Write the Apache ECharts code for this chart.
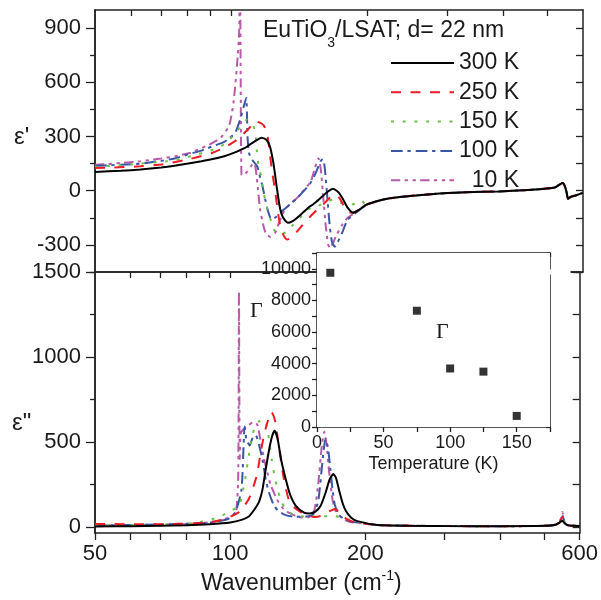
<!DOCTYPE html>
<html><head><meta charset="utf-8">
<script src="https://cdn.jsdelivr.net/npm/echarts@6/dist/echarts.min.js"></script>
<style>html,body{margin:0;padding:0;background:#fff}#c{width:601px;height:600px}</style>
</head><body><div id="c"></div>
<script>
// ---------- data ----------
const seriesNames = ['300 K', '250 K', '150 K', '100 K', '  10 K'];
const seriesColors = ['#000000', '#ec1c24', '#6cc04a', '#3a56a6', '#b95aa8'];

// epsilon' : [wavenumber (cm^-1), value]
const tailE1 = [[199,-78],[216,-50],[236,-35],[280,-18],[330,-9],[390,-4],[460,5],[520,18],[541,43],[547,25],[552,-10],[556,-45],[563,-35],[580,-25],[600,-12]];
const e1_300K = [[50,104],[57,110],[63,117],[70,128],[75,138],[81,152],[86,163],[91,175],[96.6,191],[102,212],[107,235],[111,262],[114.5,283],[116.7,293],[119.5,283],[121.8,246],[124,154],[126,30],[128,-85],[130,-144],[133.5,-178],[136.5,-170],[140,-150],[149,-89],[152,-75],[157,-45],[162.5,-11],[168,11],[173,-11],[177,-50],[181,-94],[186,-122],[192,-105]];
const e1_250K = [[50,125],[55,128],[63,135],[70,145],[81,175],[91,210],[96,235],[102,274],[106,310],[110,350],[113,385],[116,375],[118,362],[120,320],[121.5,230],[123,117],[125,6],[127,-124],[128.5,-198],[130.5,-245],[133,-270],[136,-260],[140,-225],[145,-180],[150,-140],[155,-105],[160,-75],[165,-41],[170,-22],[173.5,-40],[177,-78],[181,-115],[186,-122],[192,-105]];
const e1_150K = [[50,132],[60,145],[72,163],[80,185],[91.5,228],[97,260],[103,329],[106,370],[108.5,394],[111,375],[113,330],[114,218],[115,135],[116.5,80],[118,-13],[121,-124],[123,-180],[125,-225],[128,-244],[132,-230],[137,-190],[142,-150],[147,-105],[152,-96],[160,-70],[168,-50],[177,-72],[186,-75],[194,-55]];
const e1_100K = [[50,138],[55,142],[63,150],[70,165],[75,178],[81,204],[86,222],[91,246],[96,267],[99,290],[102,318],[104.7,394],[106.5,460],[108,515],[108.7,300],[109.5,210],[111,175],[113,150],[114.3,133],[116,70],[117.4,22],[119.9,-89],[121.8,-144],[123,-158],[125,-150],[128,-125],[130,-110],[135,-75],[140,-40],[145,0],[150,45],[154,100],[157.7,163],[159.5,175],[161,130],[163,-20],[165,-180],[167,-280],[169.5,-310],[172,-285],[176,-233],[181,-161],[190,-117],[195,-95]];
const e1_10K = [[50,144],[55,150],[63,163],[70,178],[75,190],[81,209],[86,235],[91,265],[95,295],[99,360],[101.2,487],[103,690],[104.2,880],[104.6,1300],[105.0,600],[105.4,90],[106.5,85],[108.5,105],[111,140],[112.5,150],[113.5,110],[114.5,20],[116,-110],[118,-198],[119.5,-240],[122,-255],[125,-235],[128,-170],[131,-110],[135,-75],[140,-40],[145,5],[150,50],[153,120],[156,180],[158,110],[160,-50],[162,-200],[164,-300],[165.5,-317],[168,-290],[171,-245],[176,-190],[181,-150],[190,-115],[195,-95]];

// epsilon'' : [wavenumber (cm^-1), value]
const tailE2 = [[213,12],[250,8],[300,6],[400,5],[500,7],[530,13],[542,28]];
const tailE2b = [[556,22],[565,10],[600,6]];
const peak550 = [37, 60, 55, 70, 88];
const e2_300K = [[50,3],[60,5],[70,8],[80,11],[90,17],[100,27],[106,42],[110,62],[113,100],[116,150],[118,220],[119.7,323],[122,450],[124,535],[125.6,566],[127.5,520],[130,390],[133,280],[136,190],[140,125],[146,85],[150,80],[155,92],[159,125],[163,200],[166.5,280],[169.6,312],[172,290],[175,210],[178,140],[181,94],[186,55],[192,35]];
const e2_250K = [[50,18],[60,17],[70,17],[80,20],[90,28],[95,40],[100,60],[104.6,88],[110,165],[114.5,300],[117.6,476],[120.5,600],[123.6,676],[126,620],[128.3,476],[131.7,282],[134.9,165],[139,115],[143.6,88],[149,68],[154,59],[159,65],[163,80],[167,95],[171,106],[175,85],[180,55],[186,35],[200,20]];
const e2_150K = [[50,10],[60,12],[70,15],[80,20],[85,27],[91,45],[97,75],[101,100],[104.6,124],[106.5,200],[108,282],[110,420],[112,540],[114,600],[116.5,625],[119.5,630],[121.5,550],[123.7,400],[125.5,300],[127.5,223],[130,150],[133,106],[139.5,67],[149,62],[160,63],[170,65],[180,50],[190,35],[200,22]];
const e2_100K = [[50,10],[60,12],[70,15],[80,20],[90,25],[96,38],[99.3,50],[102.7,88],[106,223],[107.7,592],[108.7,514],[110.5,480],[112,520],[114,540],[116,480],[118,397],[120,280],[122,203],[125,130],[128,95],[133,70],[140,60],[148,62],[153,75],[157,150],[160,350],[163,520],[165,470],[167,350],[169,220],[171,130],[175,70],[180,45],[186,32],[200,22]];
const e2_10K = [[50,10],[60,12],[70,14],[80,18],[90,28],[96,42],[100,60],[103,85],[104.2,300],[104.6,1380],[105.0,400],[105.5,550],[107,575],[110,600],[113,618],[115,600],[117,500],[119,400],[121,320],[123,250],[127,164],[131.5,105],[136,80],[140,65],[146,55],[150,60],[154,100],[157,250],[160,480],[162,560],[164,480],[166,330],[169,160],[172,90],[178,50],[185,30],[200,20]];

// inset: damping Gamma vs temperature
const gammaTemp = [10, 75, 100, 125, 150];
const gammaVal = [9750, 7350, 3700, 3500, 700];

// tick / label values
const xTickVals = [50, 60, 70, 80, 90, 100, 200, 300, 400, 500, 600];
const xTopTickVals = [60, 70, 80, 90, 100, 200, 300, 400, 500];
const xMidTickVals = [60, 70, 80, 90, 100];
const xLabelVals = [50, 100, 200, 600];
const e1MajorTicks = [-300, 0, 300, 600, 900];
const e1MinorTicks = [-450, -150, 150, 450, 750];
const e1AllTicks = [-450, -300, -150, 0, 150, 300, 450, 600, 750, 900];
const e2MajorTicks = [0, 500, 1000, 1500];
const e2MinorTicks = [250, 750, 1250];
const e2AllTicks = [0, 250, 500, 750, 1000, 1250, 1500];

// ---------- chart ----------
const FONT = '"Liberation Sans", Arial, sans-serif';
const TXT = '#1a1a1a';
const AX = '#222';
const dashes = ['solid', [10, 9.5], [3, 8.7], [11.7, 4.7, 3.3, 5], [9.3, 4.3, 3.3, 4.7, 3.3, 4.3]];
const e1Data = [e1_300K, e1_250K, e1_150K, e1_100K, e1_10K];
const e2Data = [e2_300K, e2_250K, e2_150K, e2_100K, e2_10K];

const lineAx = {onZero: false, lineStyle: {color: AX, width: 1.5}};
const tickStyle = {color: AX, width: 1.3};
const plain = v => String(Math.round(v));
function logAxis(extra) {
  return Object.assign({type: 'log', logBase: 10, min: 50, max: 600,
    axisLine: lineAx, splitLine: {show: false}, axisLabel: {show: false}, axisTick: {show: false}}, extra);
}
function valAxis(extra) {
  return Object.assign({type: 'value', axisLine: Object.assign({show: true}, lineAx), splitLine: {show: false},
    axisLabel: {show: false}, axisTick: {show: false}}, extra);
}

const series = [];
for (let i = 4; i >= 0; i--) {
  series.push({name: seriesNames[i], type: 'line', xAxisIndex: 0, yAxisIndex: 0, data: e1Data[i].concat(tailE1),
    symbol: 'none', smooth: 0.2, clip: true, z: 10 - i,
    lineStyle: {color: seriesColors[i], width: 2, type: dashes[i]}, itemStyle: {color: seriesColors[i]}});
}
for (let i = 4; i >= 0; i--) {
  const d = e2Data[i].concat(tailE2, [[549, peak550[i]]], tailE2b);
  series.push({name: seriesNames[i], type: 'line', xAxisIndex: 2, yAxisIndex: 3, data: d,
    symbol: 'none', smooth: 0.2, clip: true, z: 10 - i,
    lineStyle: {color: seriesColors[i], width: 2, type: dashes[i]}, itemStyle: {color: seriesColors[i]}});
}
series.push({name: 'Gamma', type: 'scatter', xAxisIndex: 4, yAxisIndex: 6,
  data: gammaTemp.map((t, k) => [t, gammaVal[k]]), symbol: 'rect', symbolSize: 8,
  itemStyle: {color: '#000'}, z: 20});

const option = {
  animation: false,
  backgroundColor: '#fff',
  textStyle: {fontFamily: FONT},
  grid: [
    {left: 95, top: 10, width: 488, height: 262},
    {left: 95, top: 272, width: 488, height: 262},
    {left: 317, top: 253, width: 233, height: 174, show: true, backgroundColor: '#fff', borderWidth: 0, z: 3}
  ],
  legend: {
    data: seriesNames, orient: 'vertical', left: 385, top: 46.5, itemWidth: 63, itemHeight: 20, itemGap: 6.3,
    selectedMode: false, textStyle: {fontSize: 23, fontFamily: FONT, color: TXT, lineHeight: 20},
    itemStyle: {color: 'rgba(0,0,0,0)', borderColor: 'rgba(0,0,0,0)', borderWidth: 0, opacity: 0}
  },
  xAxis: [
    logAxis({gridIndex: 0, position: 'bottom'}),
    logAxis({gridIndex: 0, position: 'top', axisTick: {show: true, inside: true, length: 6, customValues: xTopTickVals, lineStyle: tickStyle}}),
    logAxis({gridIndex: 1, position: 'bottom',
      axisTick: {show: true, inside: false, length: 7, customValues: xTickVals, lineStyle: tickStyle},
      axisLabel: {show: true, customValues: xLabelVals, fontSize: 22, fontFamily: FONT, color: TXT, margin: 10,
        formatter: plain},
      name: 'Wavenumber (cm{sup|-1})', nameLocation: 'middle', nameGap: 36,
      nameTextStyle: {fontSize: 23, fontFamily: FONT, color: TXT, lineHeight: 30, padding: [0, 72, 0, 0],
        rich: {sup: {fontSize: 14, fontFamily: FONT, color: TXT, lineHeight: 14, verticalAlign: 'top'}}}}),
    logAxis({gridIndex: 1, position: 'top', axisTick: {show: true, inside: true, length: 6, customValues: xMidTickVals, lineStyle: tickStyle}}),
    valAxis({gridIndex: 2, position: 'bottom', min: 0, max: 175, interval: 25,
      axisTick: {show: true, inside: false, length: 5, lineStyle: tickStyle},
      axisLabel: {show: true, fontSize: 18, fontFamily: FONT, color: TXT, margin: 7,
        formatter: v => (v % 50 === 0 ? String(v) : '')},
      name: 'Temperature (K)', nameLocation: 'middle', nameGap: 28,
      nameTextStyle: {fontSize: 18, fontFamily: FONT, color: TXT}}),
    valAxis({gridIndex: 2, position: 'top', min: 0, max: 175, interval: 25,
      axisTick: {show: true, inside: true, length: 4, lineStyle: tickStyle}})
  ],
  yAxis: [
    valAxis({gridIndex: 0, position: 'left', min: -450, max: 1000,
      axisTick: {show: true, inside: false, length: 9, customValues: e1MajorTicks, lineStyle: tickStyle},
      axisLabel: {show: true, customValues: e1MajorTicks, fontSize: 22, fontFamily: FONT, color: TXT, margin: 14, formatter: plain}}),
    valAxis({gridIndex: 0, position: 'left', min: -450, max: 1000,
      axisTick: {show: true, inside: false, length: 5, customValues: e1MinorTicks, lineStyle: tickStyle}}),
    valAxis({gridIndex: 0, position: 'right', min: -450, max: 1000,
      axisTick: {show: true, inside: true, length: 7, customValues: e1AllTicks, lineStyle: tickStyle}}),
    valAxis({gridIndex: 1, position: 'left', min: -35, max: 1500,
      axisTick: {show: true, inside: false, length: 9, customValues: e2MajorTicks, lineStyle: tickStyle},
      axisLabel: {show: true, customValues: e2MajorTicks, fontSize: 22, fontFamily: FONT, color: TXT, margin: 14, formatter: plain}}),
    valAxis({gridIndex: 1, position: 'left', min: -35, max: 1500,
      axisTick: {show: true, inside: false, length: 5, customValues: e2MinorTicks, lineStyle: tickStyle}}),
    valAxis({gridIndex: 1, position: 'right', min: -35, max: 1500,
      axisTick: {show: true, inside: true, length: 7, customValues: e2AllTicks, lineStyle: tickStyle}}),
    valAxis({gridIndex: 2, position: 'left', min: 0, max: 11000, interval: 1000,
      axisTick: {show: true, inside: false, length: 5, lineStyle: tickStyle},
      axisLabel: {show: true, fontSize: 18, fontFamily: FONT, color: TXT, margin: 6,
        formatter: v => (v % 2000 === 0 ? String(v) : '')}}),
    valAxis({gridIndex: 2, position: 'right', min: 0, max: 11000, interval: 1000,
      axisTick: {show: true, inside: true, length: 4, lineStyle: tickStyle}})
  ],
  graphic: [
    {type: 'rect', shape: {x: 318.5, y: 269.5, width: 252, height: 5}, style: {fill: '#fff'}, z: 5, silent: true},
    {type: 'text', x: 14, y: 137, z: 6, style: {text: "ε'", font: '24px ' + FONT, fill: TXT, verticalAlign: 'middle'}},
    {type: 'text', x: 12, y: 423, z: 6, style: {text: 'ε"', font: '24px ' + FONT, fill: TXT, verticalAlign: 'middle'}},
    {type: 'text', x: 250, y: 311, z: 6, style: {text: 'Γ', font: '22px "Liberation Serif", "Times New Roman", serif', fill: TXT, verticalAlign: 'middle'}},
    {type: 'text', x: 436, y: 332, z: 6, style: {text: 'Γ', font: '22px "Liberation Serif", "Times New Roman", serif', fill: TXT, verticalAlign: 'middle'}},
    {type: 'text', x: 263, y: 19, z: 6, style: {
      text: '{m|EuTiO}{s|3}{m|/LSAT; d= 22 nm}', fill: TXT, verticalAlign: 'top',
      rich: {
        m: {fontSize: 23, fontFamily: FONT, fill: TXT, lineHeight: 26, verticalAlign: 'top'},
        s: {fontSize: 14, fontFamily: FONT, fill: TXT, lineHeight: 14, verticalAlign: 'top', padding: [17, 0, 0, 0]}
      }}}
  ],
  series: series
};
const chart = echarts.init(document.getElementById('c'));
chart.setOption(option);
</script>
</body></html>
